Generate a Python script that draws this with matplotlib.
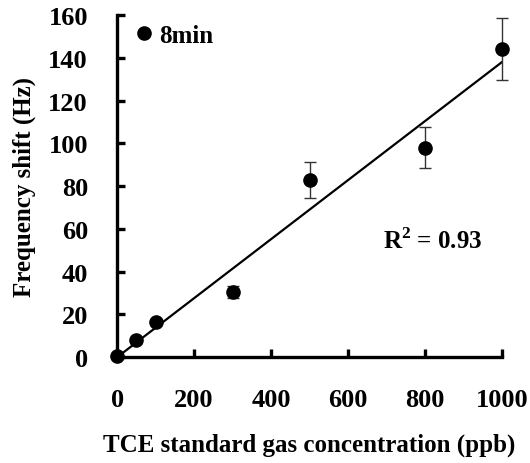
import numpy as np
import matplotlib.pyplot as plt
from matplotlib.lines import Line2D

# data
conc = [0, 50, 100, 300, 500, 800, 1000]
shift = [0.5, 8, 16.5, 30.5, 83, 98, 144]
err = [0, 0, 0, 3, 8.3, 9.6, 14.5]
r2_label = "R$^{\\mathbf{2}}$ = 0.93"

plt.rcParams["font.family"] = ["Liberation Serif", "DejaVu Serif"]
plt.rcParams["font.weight"] = "bold"
plt.rcParams["mathtext.fontset"] = "custom"
plt.rcParams["mathtext.rm"] = "Liberation Serif:bold"
plt.rcParams["mathtext.bf"] = "Liberation Serif:bold"

fig = plt.figure(figsize=(5.3, 4.64), dpi=100)
ax = fig.add_axes([0.221, 0.228, 0.726, 0.737])

x = np.array(conc, dtype=float)
y = np.array(shift, dtype=float)
# least squares through the origin
slope = np.sum(x * y) / np.sum(x * x)
xf = np.array([0, 1000])
ax.plot(xf, slope * xf, color="black", lw=1.6, zorder=2)

ax.errorbar(conc, shift, yerr=err, fmt="o", color="black", ms=9.5,
            ecolor="#333333", elinewidth=1.0, capsize=4, capthick=1.0,
            zorder=3, clip_on=False)

ax.text(692, 55, r2_label, fontsize=18, fontweight="bold", va="center")

ax.set_xlim(0, 1000)
ax.set_ylim(0, 160)
ax.set_xticks(range(0, 1001, 200))
ax.set_yticks(range(0, 161, 20))
for s in ["top", "right"]:
    ax.spines[s].set_visible(False)
for s in ["left", "bottom"]:
    ax.spines[s].set_linewidth(2.4)
ax.tick_params(direction="in", length=6, width=2.4, labelsize=19)
ax.tick_params(axis="x", pad=22)
ax.tick_params(axis="y", pad=21)
for lab in ax.get_xticklabels() + ax.get_yticklabels():
    lab.set_fontweight("bold")

ax.set_xlabel("TCE standard gas concentration (ppb)", fontsize=18,
              fontweight="bold", labelpad=16)
ax.set_ylabel("Frequency shift (Hz)", fontsize=18, fontweight="bold",
              labelpad=9)

handle = Line2D([], [], marker="o", color="black", ls="none", ms=9.5)
ax.legend([handle], ["8min"], loc="upper left", frameon=False, fontsize=18,
          handletextpad=0.1, borderaxespad=0.0,
          bbox_to_anchor=(0.012, 1.005), handlelength=1.0)

fig.savefig("out.png", dpi=100)
